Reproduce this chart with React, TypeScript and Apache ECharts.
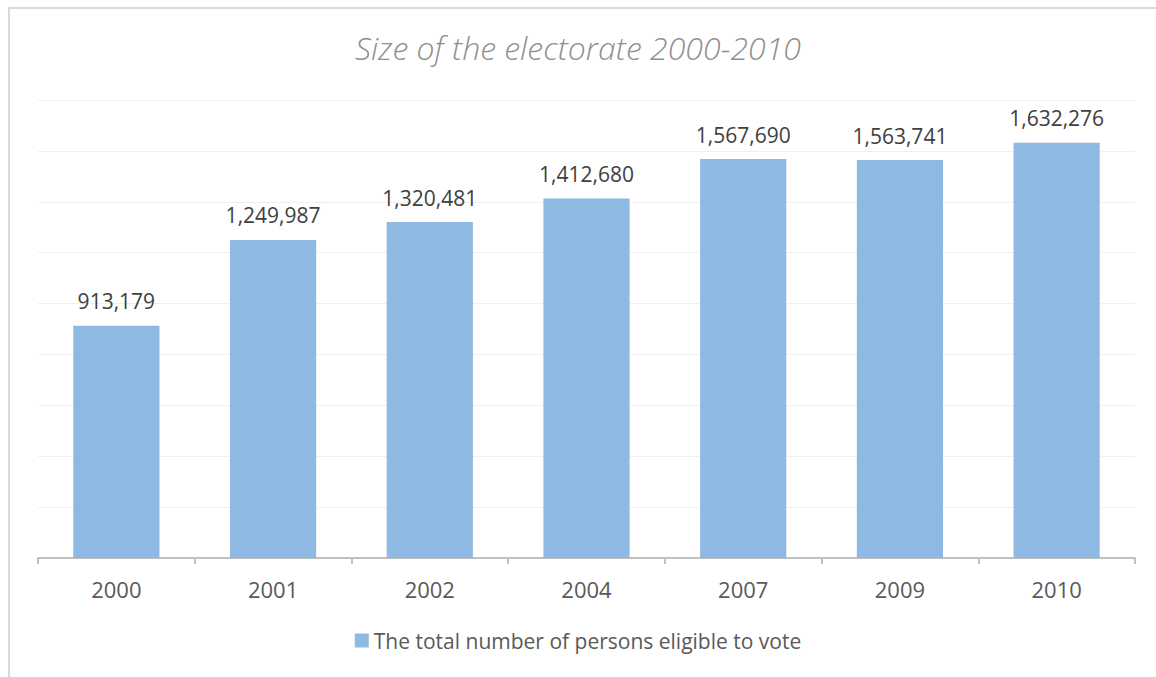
import React, { useEffect, useRef } from "react";
import * as echarts from "echarts";

const categories = ["2000", "2001", "2002", "2004", "2007", "2009", "2010"];
const values = [913179, 1249987, 1320481, 1412680, 1567690, 1563741, 1632276];
const seriesName = "The total number of persons eligible to vote";
const titleText = "Size of the electorate 2000-2010";

export default function App() {
  const ref = useRef<HTMLDivElement>(null);
  useEffect(() => {
    if (!ref.current) return;
    const chart = echarts.init(ref.current, undefined, { renderer: "svg" });
    chart.setOption({
      animation: false,
      backgroundColor: "#ffffff",
      title: {
        text: titleText,
        left: "center",
        top: 26,
        textStyle: {
          fontFamily: "'Open Sans', sans-serif",
          fontStyle: "italic",
          fontWeight: 300,
          fontSize: 32,
          color: "#8f8f8f",
        },
      },
      graphic: [
        { type: "line", shape: { x1: 9, y1: 7, x2: 9, y2: 677 }, style: { stroke: "#d9d9d9", lineWidth: 2 } },
        { type: "line", shape: { x1: 8, y1: 8, x2: 1156, y2: 8 }, style: { stroke: "#d9d9d9", lineWidth: 2 } },
      ],
      legend: {
        bottom: 21,
        left: "center",
        itemWidth: 14,
        itemHeight: 14,
        itemGap: 10,
        icon: "rect",
        textStyle: { fontFamily: "'Open Sans', sans-serif", fontSize: 21, color: "#595959" },
        data: [seriesName],
      },
      grid: { left: 38, right: 21, top: 100, bottom: 119 },
      xAxis: {
        type: "category",
        data: categories,
        axisLine: { lineStyle: { color: "#bfbfbf", width: 2 } },
        axisTick: { show: true, length: 6, interval: 0, lineStyle: { color: "#bfbfbf", width: 2 } },
        axisLabel: { margin: 20, fontSize: 22, color: "#595959", fontFamily: "'Open Sans', sans-serif" },
      },
      yAxis: {
        type: "value",
        min: 0,
        max: 1800000,
        interval: 200000,
        axisLabel: { show: false },
        axisLine: { show: false },
        axisTick: { show: false },
        splitLine: { lineStyle: { color: "#efefef", width: 1 } },
      },
      series: [
        {
          name: seriesName,
          type: "bar",
          data: values,
          barWidth: "55%",
          itemStyle: { color: "#8db9e2" },
          label: {
            show: true,
            position: "top",
            distance: 14,
            fontSize: 21,
            color: "#404040",
            fontFamily: "'Open Sans', sans-serif",
            formatter: (p: any) => Number(p.value).toLocaleString("en-US"),
          },
        },
      ],
    });
    return () => chart.dispose();
  }, []);
  return <div ref={ref} style={{ position: "fixed", left: 0, top: 0, width: 1156, height: 677 }} />;
}
